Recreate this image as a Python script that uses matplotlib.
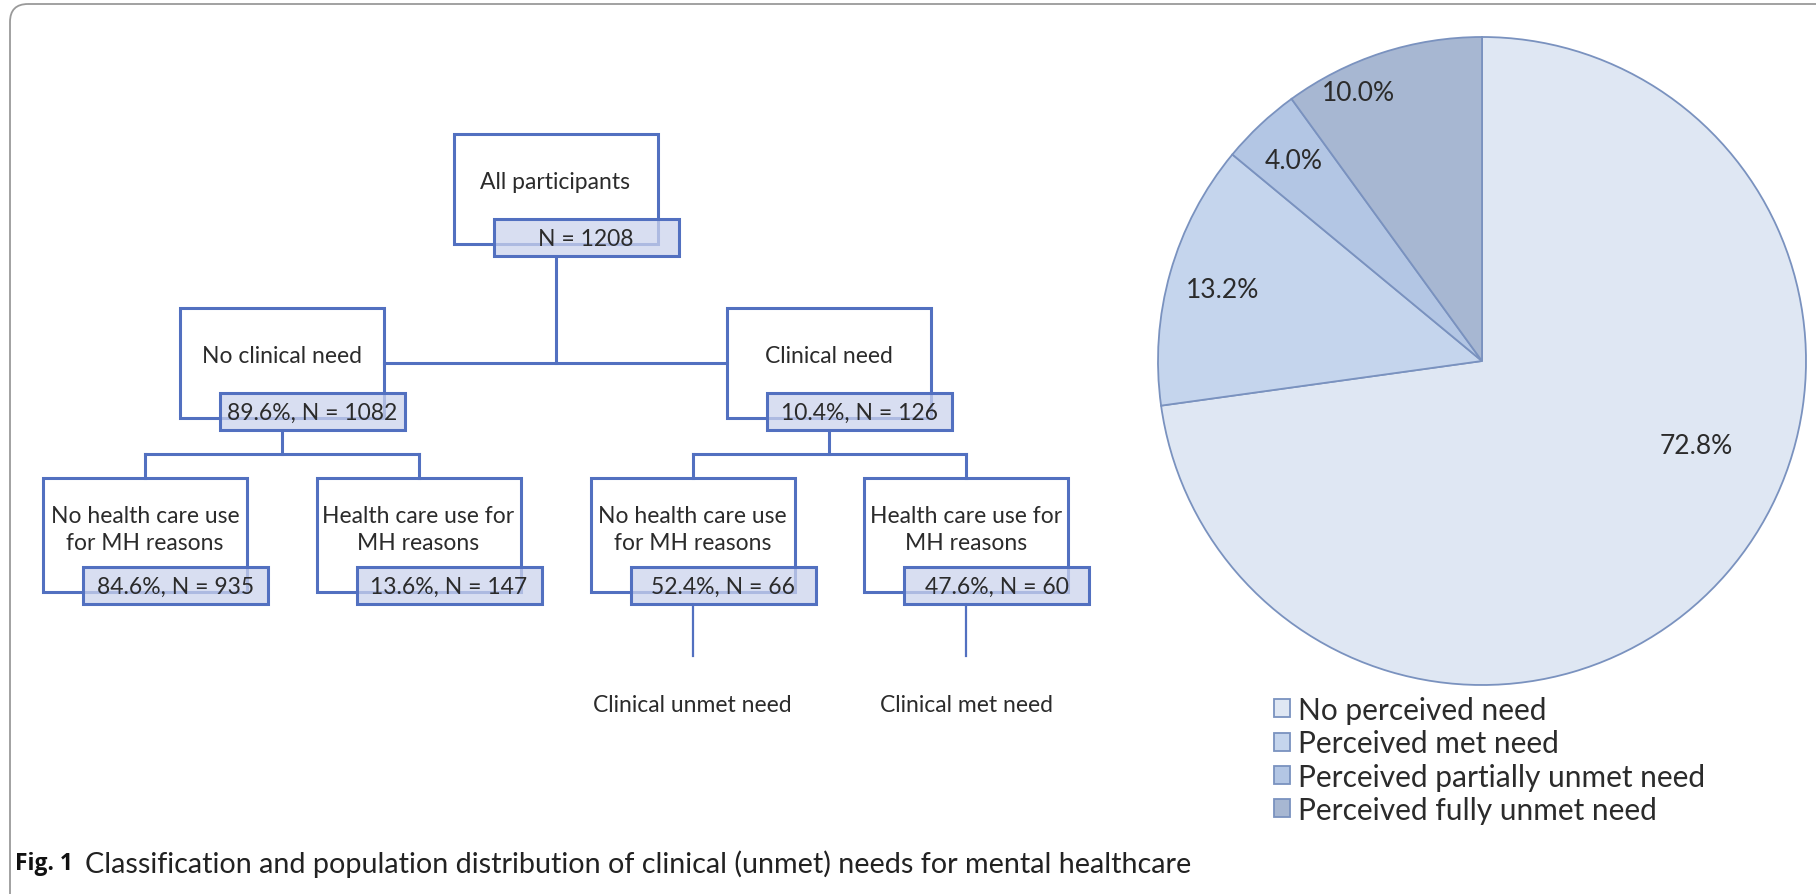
import matplotlib.pyplot as plt
from matplotlib.patches import Rectangle, FancyBboxPatch

# ---------------- data ----------------
node_titles = [
    "All participants",
    "No clinical need",
    "Clinical need",
    "No health care use\nfor MH reasons",
    "Health care use for\nMH reasons",
    "No health care use\nfor MH reasons",
    "Health care use for\nMH reasons",
]
node_pct = [None, 89.6, 10.4, 84.6, 13.6, 52.4, 47.6]
node_n = [1208, 1082, 126, 935, 147, 66, 60]
node_parent = [None, 0, 0, 1, 1, 2, 2]
outcome_labels = ["Clinical unmet need", "Clinical met need"]
outcome_nodes = [5, 6]

pie_labels = [
    "No perceived need",
    "Perceived met need",
    "Perceived partially unmet need",
    "Perceived fully unmet need",
]
pie_values = [72.8, 13.2, 4.0, 10.0]

caption_bold = "Fig. 1"
caption_text = "Classification and population distribution of clinical (unmet) needs for mental healthcare"

# ---------------- style ----------------
W, H = 1816, 895
LINE = "#5270c0"
INNER_FILL = (0.80, 0.83, 0.93, 0.75)
TEXT = "#2b2b2b"
PIE_COLORS = ["#dfe7f3", "#c5d5ed", "#b3c6e4", "#a7b7d2"]
FONT = ["Lato", "DejaVu Sans"]
FS = 16.5

fig = plt.figure(figsize=(W / 100, H / 100), dpi=100)
ax = fig.add_axes([0, 0, 1, 1])
ax.set_xlim(0, W)
ax.set_ylim(H, 0)
ax.axis("off")

# outer frame with rounded corner (runs off the right and bottom)
ax.add_patch(FancyBboxPatch((10, 5), W + 40, H + 40,
                            boxstyle="round,pad=0,rounding_size=18",
                            fill=False, edgecolor="#9a9a9a", lw=1.3))

# ---------------- tree layout ----------------
leaf_x = [145, 418.5, 692.5, 966]
level_top = [135, 309, 479]
level_h = [110, 110, 114]
box_w, inner_w, inner_h = 204, 185, 37
node_level = [0, 1, 1, 2, 2, 2, 2]

cx = [0] * len(node_titles)
for i in range(3, 7):
    cx[i] = leaf_x[i - 3]
cx[1] = (cx[3] + cx[4]) / 2
cx[2] = (cx[5] + cx[6]) / 2
cx[0] = (cx[1] + cx[2]) / 2

for i, title in enumerate(node_titles):
    lv = node_level[i]
    top, h = level_top[lv], level_h[lv]
    left = cx[i] - box_w / 2
    ax.add_patch(Rectangle((left, top), box_w, h, fill=False, edgecolor=LINE, lw=2.2, zorder=2))
    itop = top + h - 25
    ax.add_patch(Rectangle((left + 40, itop), inner_w, inner_h, facecolor=INNER_FILL,
                           edgecolor=LINE, lw=2.2, zorder=3))
    ty = top + (47 if lv < 2 else 51)
    ax.text(cx[i], ty, title, ha="center", va="center", fontsize=FS, color=TEXT,
            family=FONT, linespacing=1.35, zorder=4)
    if node_pct[i] is None:
        lab = f"N = {node_n[i]}"
    else:
        lab = f"{node_pct[i]}%, N = {node_n[i]}"
    ax.text(left + 40 + inner_w / 2, itop + inner_h / 2 + 1, lab, ha="center", va="center",
            fontsize=FS, color=TEXT, family=FONT, zorder=4)

# connectors
for p in [0, 1, 2]:
    kids = [k for k, par in enumerate(node_parent) if par == p]
    lv = node_level[p]
    bottom = level_top[lv] + level_h[lv] - 25 + inner_h
    if p == 0:
        ymid = level_top[1] + level_h[1] / 2
        ax.plot([cx[0], cx[0]], [bottom, ymid], color=LINE, lw=2.2, zorder=1)
        ax.plot([cx[1] + box_w / 2, cx[2] - box_w / 2], [ymid, ymid], color=LINE, lw=2.2, zorder=1)
    else:
        ymid = 455
        ax.plot([cx[p], cx[p]], [bottom, ymid], color=LINE, lw=2.2, zorder=1)
        ax.plot([cx[kids[0]], cx[kids[-1]]], [ymid, ymid], color=LINE, lw=2.2, zorder=1)
        for k in kids:
            ax.plot([cx[k], cx[k]], [ymid, level_top[2]], color=LINE, lw=2.2, zorder=1)

for lab, k in zip(outcome_labels, outcome_nodes):
    bottom = level_top[2] + level_h[2] - 25 + inner_h
    ax.plot([cx[k], cx[k]], [bottom, 657], color=LINE, lw=1.6, zorder=1)
    ax.text(cx[k], 705, lab, ha="center", va="center", fontsize=FS, color=TEXT, family=FONT)

# caption
t = ax.text(15, 864, caption_bold + "  ", ha="left", va="center", fontsize=16.5,
            fontweight="bold", color="#111111", family=["Open Sans", "DejaVu Sans"])
fig.canvas.draw()
bb = t.get_window_extent()
ax.text(bb.x1, 864, caption_text, ha="left", va="center", fontsize=20.7,
        color="#222222", family=FONT)

# ---------------- pie ----------------
pcx, pcy, r = 1482, 362, 324
pax = fig.add_axes([(pcx - r) / W, (H - pcy - r) / H, 2 * r / W, 2 * r / H])
wedges, _ = pax.pie(pie_values, colors=PIE_COLORS, startangle=90, counterclock=False,
                    wedgeprops=dict(edgecolor="#7a92bf", linewidth=1.3))
pax.set_xlim(-1, 1)
pax.set_ylim(-1, 1)
pax.set_aspect("equal")
pax.axis("off")

# label positions (axes fraction of the pie axes)
label_pos = [(0.83, 0.37), (0.10, 0.61), (0.21, 0.81), (0.31, 0.915)]
for v, (lx, ly) in zip(pie_values, label_pos):
    pax.text(lx, ly, f"{v:.1f}%", transform=pax.transAxes, ha="center", va="center",
             fontsize=19, color=TEXT, family=FONT)

leg = fig.legend(wedges, pie_labels, loc="upper left",
                 bbox_to_anchor=(1259 / W, 1 - 682 / H), frameon=False,
                 prop={"family": FONT, "size": 21.5}, handlelength=0.55, handleheight=0.55,
                 handletextpad=0.25, labelspacing=0.18, borderpad=0)
for txt in leg.get_texts():
    txt.set_color(TEXT)

fig.savefig("out.png", dpi=100)
